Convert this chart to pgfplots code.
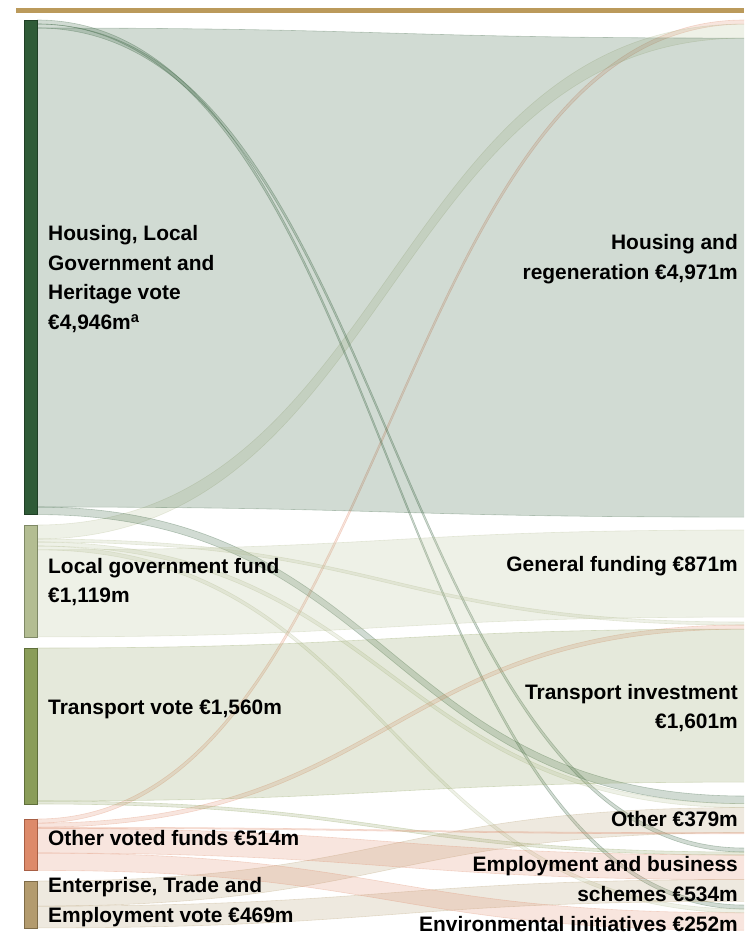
\documentclass[border=0pt]{standalone}
\usepackage{fontspec}
\setmainfont{Liberation Sans}
\usepackage{pgfplots}
\pgfplotsset{compat=1.18}

\definecolor{hvote}{HTML}{2F5B37}
\definecolor{hvoteB}{HTML}{1F3F25}
\definecolor{lgf}{HTML}{B3BD92}
\definecolor{lgfB}{HTML}{7F8966}
\definecolor{tvote}{HTML}{8A9D59}
\definecolor{tvoteB}{HTML}{5F6F3A}
\definecolor{ovote}{HTML}{DD8A6A}
\definecolor{ovoteB}{HTML}{A85F45}
\definecolor{evote}{HTML}{B39B6E}
\definecolor{evoteB}{HTML}{7F6C48}
\definecolor{rule}{HTML}{BB9A5B}

% y positions are in EUR m (10 units = 1 px), x in px
% running offsets: out<source> on the left, in<target> on the right
\newcommand\srcnode[2]{\expandafter\xdef\csname out#1\endcsname{#2}}
\newcommand\tgtnode[2]{\expandafter\xdef\csname in#1\endcsname{#2}}

\newcommand\sflow[4]{% source, target, value, colour
  \pgfmathsetmacro\ya{\csname out#1\endcsname}%
  \pgfmathsetmacro\yb{\csname in#2\endcsname}%
  \pgfmathsetmacro\yc{\ya+#3}%
  \pgfmathsetmacro\yd{\yb+#3}%
  \expandafter\xdef\csname out#1\endcsname{\yc}%
  \expandafter\xdef\csname in#2\endcsname{\yd}%
  \edef\tmp{%
    \noexpand\fill[#4, opacity=0.22]
      (axis cs:37,\ya) .. controls (axis cs:390,\ya) and (axis cs:390,\yb) .. (axis cs:744,\yb)
      -- (axis cs:744,\yd) .. controls (axis cs:390,\yd) and (axis cs:390,\yc) .. (axis cs:37,\yc) -- cycle;
    \noexpand\draw[#4, opacity=0.3, line width=0.6pt]
      (axis cs:37,\ya) .. controls (axis cs:390,\ya) and (axis cs:390,\yb) .. (axis cs:744,\yb);
    \noexpand\draw[#4, opacity=0.3, line width=0.6pt]
      (axis cs:37,\yc) .. controls (axis cs:390,\yc) and (axis cs:390,\yd) .. (axis cs:744,\yd);
  }\tmp}

\newcommand\nodebar[4]{% top, value, fill, border
  \pgfmathsetmacro\yb{#1+#2}%
  \edef\tmp{\noexpand\fill[#3, draw=#4, line width=0.8pt]
    (axis cs:24,#1) rectangle (axis cs:37,\yb);}\tmp}

\tikzset{lbl/.style={font=\fontsize{21}{30}\selectfont\bfseries, inner sep=0pt}}

\begin{document}
\begin{tikzpicture}
\begin{axis}[
    width=744bp, height=937bp, scale only axis,
    xmin=0, xmax=744, ymin=0, ymax=9370,
    y dir=reverse,
    hide axis,
    clip=false,
]
\path (axis cs:0,0) rectangle (axis cs:744,9370);
\fill[rule] (axis cs:16,80) rectangle (axis cs:744,130);

% left nodes (top, value)
\srcnode{H}{200}  \srcnode{L}{5250} \srcnode{T}{6480}
\srcnode{O}{8190} \srcnode{E}{8810}
% right nodes (top)
\tgtnode{HR}{200}  \tgtnode{GF}{5300} \tgtnode{TI}{6220}
\tgtnode{OT}{7960} \tgtnode{EB}{8480} \tgtnode{EI}{9050}

% target inflow order is set by drawing order per target
\sflow{O}{HR}{41}{ovote}
\sflow{L}{HR}{140}{lgf}
\sflow{H}{EI}{40}{hvote}
\sflow{H}{EB}{40}{hvote}
\sflow{H}{HR}{4790}{hvote}
\sflow{H}{OT}{76}{hvote}
\sflow{L}{TI}{30}{lgf}
\sflow{L}{OT}{40}{lgf}
\sflow{L}{EI}{38}{lgf}
\sflow{L}{GF}{871}{lgf}
\sflow{O}{TI}{41}{ovote}
\sflow{T}{TI}{1530}{tvote}
\sflow{T}{EB}{30}{tvote}
\sflow{E}{OT}{251}{evote}
\sflow{O}{OT}{12}{ovote}
\sflow{O}{EB}{246}{ovote}
\sflow{E}{EB}{218}{evote}
\sflow{O}{EI}{174}{ovote}

\nodebar{200}{4946}{hvote}{hvoteB}
\nodebar{5250}{1119}{lgf}{lgfB}
\nodebar{6480}{1560}{tvote}{tvoteB}
\nodebar{8190}{514}{ovote}{ovoteB}
\nodebar{8810}{469}{evote}{evoteB}

\node[lbl, anchor=west, align=left] at (axis cs:48,2790)
  {Housing, Local\\Government and\\Heritage vote\\€4,946m\textsuperscript{a}};
\node[lbl, anchor=west, align=left] at (axis cs:48,5820)
  {Local government fund\\€1,119m};
\node[lbl, anchor=west] at (axis cs:48,7090) {Transport vote €1,560m};
\node[lbl, anchor=west] at (axis cs:48,8380) {Other voted funds €514m};
\node[lbl, anchor=west, align=left] at (axis cs:48,9020)
  {Enterprise, Trade and\\Employment vote €469m};

\node[lbl, anchor=east, align=right] at (axis cs:738,2595)
  {Housing and\\regeneration €4,971m};
\node[lbl, anchor=east] at (axis cs:738,5660) {General funding €871m};
\node[lbl, anchor=east, align=right] at (axis cs:738,7080)
  {Transport investment\\€1,601m};
\node[lbl, anchor=east] at (axis cs:738,8190) {Other €379m};
\node[lbl, anchor=east, align=right] at (axis cs:738,8790)
  {Employment and business\\schemes €534m};
\node[lbl, anchor=east] at (axis cs:738,9240) {Environmental initiatives €252m};
\end{axis}
\end{tikzpicture}
\end{document}
